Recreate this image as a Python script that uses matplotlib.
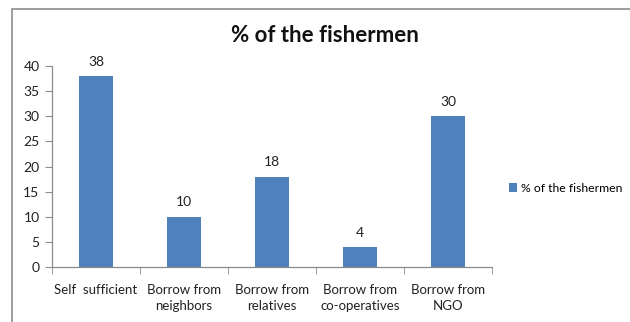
import matplotlib
matplotlib.use("Agg")
import matplotlib.pyplot as plt
from matplotlib.patches import Rectangle

categories = ["Self  sufficient", "Borrow from\nneighbors", "Borrow from\nrelatives",
              "Borrow from\nco-operatives", "Borrow from\nNGO"]
values = [38, 10, 18, 4, 30]
series_name = "% of the fishermen"
yticks = [0, 5, 10, 15, 20, 25, 30, 35, 40]

plt.rcParams['font.family'] = ['Lato', 'DejaVu Sans']

fig = plt.figure(figsize=(6.3, 3.22), dpi=100)
W, H = 630, 322
# outer chart frame
fig.patches.append(Rectangle((11.5 / W, -0.1), 1.2, (H - 9.5) / H + 0.1,
                             transform=fig.transFigure, fill=False,
                             edgecolor="#8c8c8c", linewidth=1.2))

ax = fig.add_axes([52 / W, (H - 267) / H, (492 - 52) / W, (267 - 66) / H])
x = list(range(len(categories)))
bars = ax.bar(x, values, width=0.39, color="#4F81BD", label=series_name, zorder=2)
ax.set_xlim(-0.5, len(categories) - 0.5)
ax.set_ylim(0, 40)
ax.set_yticks(yticks)
ax.set_xticks(x)
ax.set_xticklabels(categories, fontsize=9.5, color="#222222", linespacing=1.45)
ax.set_xticks([i - 0.5 for i in range(len(categories) + 1)], minor=True)
ax.tick_params(axis='x', which='major', length=0, pad=12)
ax.tick_params(axis='x', which='minor', length=5, color="#8c8c8c", direction='out')
ax.tick_params(axis='y', length=5, color="#8c8c8c", labelsize=10, labelcolor="#222222", pad=4)
for s in ['top', 'right']:
    ax.spines[s].set_visible(False)
for s in ['left', 'bottom']:
    ax.spines[s].set_color("#8c8c8c")
    ax.spines[s].set_linewidth(0.9)

for b, v in zip(bars, values):
    ax.annotate(str(v), (b.get_x() + b.get_width() / 2, v), xytext=(0, 6),
                textcoords='offset points', ha='center', va='bottom',
                fontsize=10, color="#222222")

fig.text(325 / W, 1 - 36 / H, "% of the fishermen", ha='center', va='center',
         fontsize=16, fontweight='bold', color="#111111")

ax.legend(loc='center left', bbox_to_anchor=(500 / W, 1 - 188 / H),
          bbox_transform=fig.transFigure, frameon=False, fontsize=8.8,
          handlelength=0.7, handleheight=0.7, handletextpad=0.3,
          borderaxespad=0.3)

fig.savefig("out.png", dpi=100)
